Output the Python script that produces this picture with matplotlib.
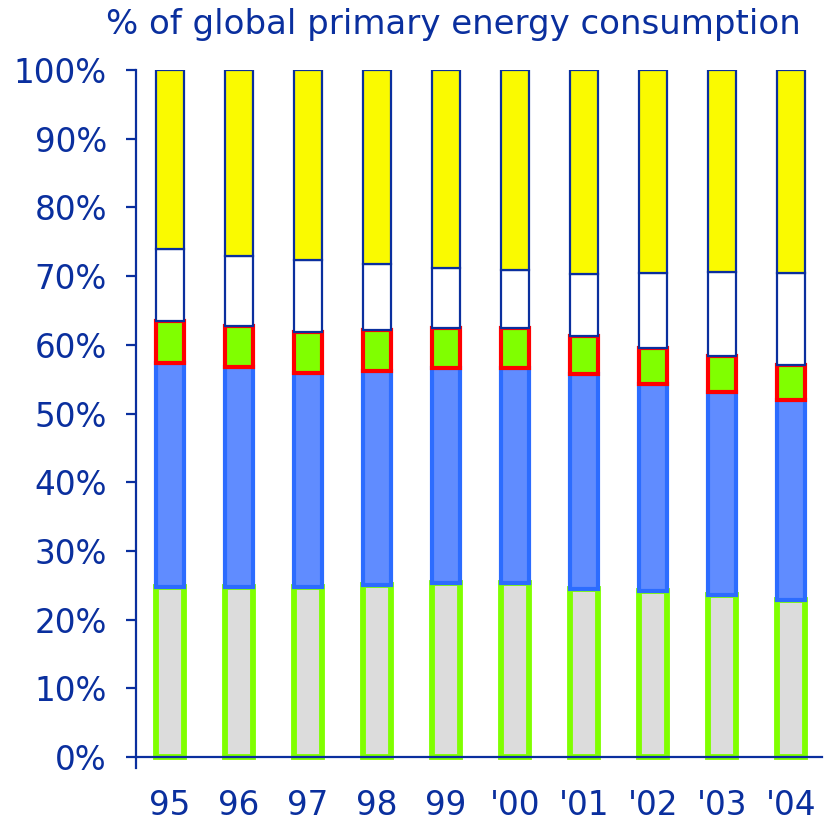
import matplotlib
matplotlib.use("Agg")
import matplotlib.pyplot as plt
import numpy as np

years = ["95", "96", "97", "98", "99", "'00", "'01", "'02", "'03", "'04"]

# share of global primary energy consumption (%), stacked bottom to top
grey = [24.8, 24.8, 24.8, 25.0, 25.4, 25.4, 24.4, 24.2, 23.6, 22.8]
blue = [32.6, 32.0, 31.1, 31.2, 31.2, 31.2, 31.3, 30.1, 29.6, 29.2]
green = [6.0, 6.0, 6.0, 6.0, 5.9, 5.8, 5.6, 5.3, 5.2, 5.0]
white = [10.5, 10.2, 10.5, 9.6, 8.7, 8.5, 9.0, 10.8, 12.2, 13.4]
yellow = [26.1, 27.0, 27.6, 28.2, 28.8, 29.1, 29.7, 29.6, 29.4, 29.6]

navy = "#0A2F9E"

layers = [
    (grey, "#DCDCDC", "#80FF00", 4.2),
    (blue, "#608CFF", "#2C6CFF", 3.0),
    (green, "#80FF00", "#FF0000", 3.0),
    (white, "#FFFFFF", navy, 1.6),
    (yellow, "#FAFA00", navy, 1.6),
]

fig = plt.figure(figsize=(8.27, 8.25), dpi=100)
ax = fig.add_axes([0.1645, 0.0691, 0.8295, 0.846])

x = np.arange(len(years))
bottom = np.zeros(len(years))
for vals, fill, edge, lw in layers:
    vals = np.array(vals)
    ax.bar(x, vals, width=0.41, bottom=bottom, color=fill,
           edgecolor=edge, linewidth=lw)
    bottom += vals

ax.set_xlim(-0.49, 9.45)
ax.set_ylim(-1.6, 100)

for side in ["top", "right"]:
    ax.spines[side].set_visible(False)
ax.spines["left"].set_color(navy)
ax.spines["left"].set_linewidth(1.6)
ax.spines["bottom"].set_position(("data", 0))
ax.spines["bottom"].set_color(navy)
ax.spines["bottom"].set_linewidth(1.6)

ax.set_yticks(np.arange(0, 101, 10))
ax.set_yticklabels([f"{v}%" for v in range(0, 101, 10)])
ax.tick_params(axis="y", length=7, width=1.6, color=navy, labelcolor=navy,
               labelsize=23.5, pad=14)
ax.set_xticks(x)
ax.set_xticklabels(years)
ax.tick_params(axis="x", length=0, labelcolor=navy, labelsize=23.5, pad=23)

fig.text(0.548, 0.970, "% of global primary energy consumption",
         ha="center", va="center", color=navy, fontsize=24.5)

fig.savefig("out.png", dpi=100)
